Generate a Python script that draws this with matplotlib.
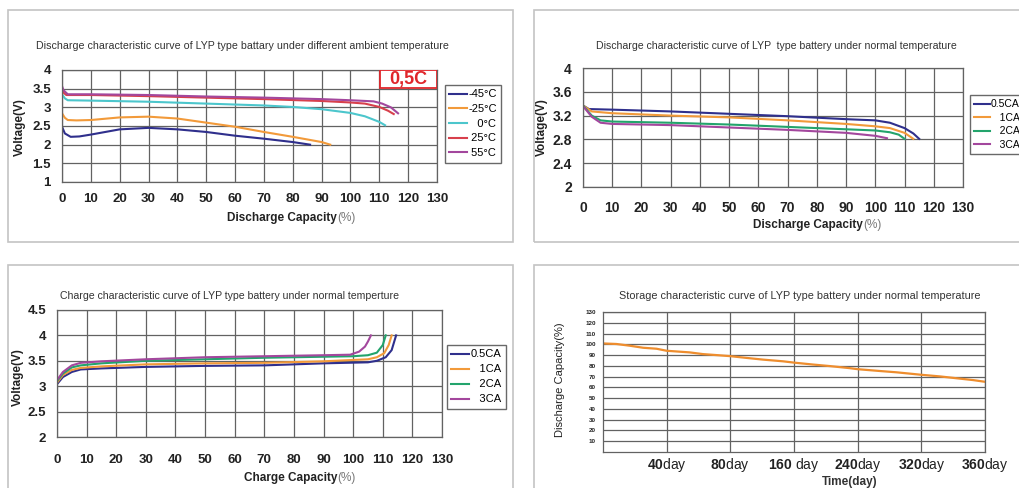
import numpy as np
import matplotlib.pyplot as plt
from matplotlib.patches import Rectangle

plt.rcParams['font.family'] = ['Liberation Sans', 'DejaVu Sans']
plt.rcParams['mathtext.fontset'] = 'custom'
plt.rcParams['mathtext.bf'] = 'Liberation Sans:bold'
plt.rcParams['mathtext.rm'] = 'Liberation Sans'

# --- panel 1: discharge at different ambient temperature (0.5C) ---
temp_labels = ['-45°C', '-25°C', '   0°C', ' 25°C', ' 55°C']
cap_m45 = [0, 1, 3, 6, 10, 20, 30, 40, 50, 60, 70, 80, 86]
v_m45 = [2.48, 2.30, 2.21, 2.22, 2.27, 2.41, 2.45, 2.41, 2.34, 2.24, 2.16, 2.07, 2.0]
cap_m25 = [0, 1, 2, 5, 10, 20, 30, 40, 50, 60, 70, 80, 90, 93]
v_m25 = [2.84, 2.72, 2.66, 2.65, 2.66, 2.73, 2.75, 2.70, 2.59, 2.48, 2.34, 2.21, 2.07, 2.0]
cap_0 = [0, 1, 2, 10, 30, 50, 70, 80, 90, 100, 105, 110, 112]
v_0 = [3.35, 3.24, 3.19, 3.18, 3.15, 3.10, 3.05, 3.01, 2.95, 2.85, 2.76, 2.61, 2.52]
cap_25 = [0, 0.7, 1.5, 10, 30, 50, 70, 90, 100, 105, 110, 113, 115]
v_25 = [3.46, 3.38, 3.33, 3.33, 3.30, 3.26, 3.22, 3.17, 3.13, 3.10, 3.01, 2.91, 2.82]
cap_55 = [0, 0.5, 2, 10, 30, 50, 70, 90, 100, 108, 111, 114, 116.5]
v_55 = [3.57, 3.46, 3.35, 3.35, 3.33, 3.29, 3.26, 3.22, 3.19, 3.16, 3.10, 3.00, 2.84]

# --- panel 2: discharge at normal temperature, several rates ---
rate_labels = ['0.5CA', '   1CA', '   2CA', '   3CA']
dis_cap_05 = [0, 2, 10, 30, 50, 70, 90, 100, 105, 110, 113, 115]
dis_v_05 = [3.37, 3.31, 3.30, 3.27, 3.23, 3.19, 3.14, 3.12, 3.08, 2.99, 2.90, 2.81]
dis_cap_1 = [0, 3, 10, 30, 50, 70, 90, 100, 105, 110, 113]
dis_v_1 = [3.37, 3.27, 3.24, 3.20, 3.17, 3.12, 3.06, 3.02, 2.99, 2.91, 2.81]
dis_cap_2 = [0, 3, 6, 10, 30, 50, 70, 90, 100, 105, 108, 110]
dis_v_2 = [3.37, 3.20, 3.12, 3.10, 3.08, 3.05, 3.01, 2.97, 2.95, 2.92, 2.88, 2.81]
dis_cap_3 = [0, 3, 6, 10, 30, 50, 70, 90, 100, 104]
dis_v_3 = [3.36, 3.18, 3.08, 3.06, 3.04, 3.00, 2.96, 2.91, 2.86, 2.82]

# --- panel 3: charge at normal temperature ---
chg_cap_05 = [0, 2, 5, 8, 15, 30, 50, 70, 90, 105, 108, 111, 113, 114.5]
chg_v_05 = [3.04, 3.18, 3.28, 3.33, 3.35, 3.38, 3.40, 3.41, 3.45, 3.47, 3.50, 3.57, 3.71, 4.0]
chg_cap_1 = [0, 2, 5, 8, 15, 30, 50, 70, 90, 105, 108, 110.5, 112, 113]
chg_v_1 = [3.07, 3.22, 3.32, 3.36, 3.39, 3.43, 3.45, 3.46, 3.49, 3.53, 3.57, 3.65, 3.81, 4.0]
chg_cap_2 = [0, 2, 5, 8, 15, 30, 50, 70, 90, 100, 105, 108, 110, 111]
chg_v_2 = [3.10, 3.25, 3.37, 3.41, 3.45, 3.50, 3.53, 3.56, 3.58, 3.59, 3.61, 3.66, 3.81, 4.0]
chg_cap_3 = [0, 2, 5, 8, 15, 30, 50, 70, 90, 99, 102, 104, 105, 106]
chg_v_3 = [3.12, 3.28, 3.41, 3.46, 3.49, 3.53, 3.57, 3.59, 3.61, 3.62, 3.68, 3.78, 3.88, 4.0]

# --- panel 4: storage ---
day_labels = ['40', '80', '160 ', '240', '320', '360']
store_pos = [0, 0.21, 0.42, 0.63, 0.84, 1.0, 1.36, 1.57, 1.78, 2.0, 2.25, 2.51, 2.83,
             3.0, 3.3, 3.56, 3.87, 4.0, 4.35, 4.61, 5.0, 5.29, 5.55, 5.81, 6.0]
store_cap = [100.8, 100.3, 98.7, 96.8, 95.9, 94.0, 92.5, 90.9, 90.0, 89.0, 87.4, 85.8,
             84.2, 83.0, 81.2, 79.8, 77.9, 76.9, 75.2, 74.0, 71.7, 70.2, 68.5, 66.8, 65.2]

NAVY = '#2f2f8c'
ORANGE = '#f29a3a'
CYAN = '#4cc6cc'
RED = '#d8404c'
PURPLE = '#a3479d'
GREEN = '#23a46c'
GRID = '#626262'

W, H = 1019, 488


def fx(x):
    return x / W


def fy(y):
    return 1 - y / H


def box(l, t, r, b):
    return [l / W, 1 - b / H, (r - l) / W, (b - t) / H]


fig = plt.figure(figsize=(10.19, 4.88), dpi=100)

# panel frames
for l, t, r, b in [(8, 10, 513, 242), (534, 10, 1040, 242),
                   (8, 265, 513, 500), (534, 265, 1040, 500)]:
    fig.patches.append(Rectangle((fx(l), fy(b)), (r - l) / W, (b - t) / H,
                                 transform=fig.transFigure, fill=False,
                                 ec='#c4c4c4', lw=1.2))


def setup(ax, xlim, ylim, xticks, yticks, pad_x, pad_y, size=9.5):
    ax.set_xlim(xlim)
    ax.set_ylim(ylim)
    ax.set_xticks(xticks)
    ax.set_yticks(yticks)
    ax.set_xticklabels(['%g' % v for v in xticks], fontweight='bold', fontsize=size)
    ax.set_yticklabels(['%g' % v for v in yticks], fontweight='bold', fontsize=size)
    ax.tick_params(axis='x', length=0, pad=pad_x, colors='#222222')
    ax.tick_params(axis='y', length=0, pad=pad_y, colors='#222222')
    ax.grid(True, color=GRID, lw=0.9)
    for s in ax.spines.values():
        s.set_color(GRID)
        s.set_linewidth(0.9)


def legend(ax, x, y, size=8, spacing=0.35, hlen=1.6):
    leg = ax.legend(loc='upper left', bbox_to_anchor=(fx(x), fy(y)),
                    bbox_transform=fig.transFigure, borderaxespad=0,
                    fontsize=size, frameon=True, fancybox=False,
                    edgecolor='#444444', handlelength=hlen, handletextpad=0.1,
                    labelspacing=spacing, borderpad=0.4)
    leg.get_frame().set_linewidth(1.0)
    return leg


def xlabel(cx, y, bold, rest, size=8.5):
    fig.text(fx(cx), fy(y), bold, ha='right', va='center', fontweight='bold',
             fontsize=size, color='#222222')
    fig.text(fx(cx), fy(y), rest, ha='left', va='center', fontsize=size,
             color='#777777')


def ylabel(x, y, text, size=8.5, weight='bold'):
    fig.text(fx(x), fy(y), text, ha='center', va='center', rotation=90,
             fontsize=size, fontweight=weight, color='#222222')


cap_ticks = list(range(0, 131, 10))

# ---------- panel 1 ----------
ax1 = fig.add_axes(box(62, 70, 437, 182))
setup(ax1, (0, 130), (1, 4), cap_ticks, [1, 1.5, 2, 2.5, 3, 3.5, 4], 8, 8)
ax1.plot(cap_m45, v_m45, color=NAVY, lw=1.5, label=temp_labels[0])
ax1.plot(cap_m25, v_m25, color=ORANGE, lw=1.5, label=temp_labels[1])
ax1.plot(cap_0, v_0, color=CYAN, lw=1.5, label=temp_labels[2])
ax1.plot(cap_25, v_25, color=RED, lw=1.5, label=temp_labels[3])
ax1.plot(cap_55, v_55, color=PURPLE, lw=1.5, label=temp_labels[4])
legend(ax1, 445, 85, spacing=0.42)
ax1.add_patch(Rectangle((0.848, 0.835), 0.152, 0.165, transform=ax1.transAxes,
                        fc='white', ec='#e0262b', lw=1.3, zorder=5))
ax1.text(0.924, 0.918, '0,5C', transform=ax1.transAxes, ha='center', va='center',
         color='#e0262b', fontweight='bold', fontsize=13, zorder=6)
fig.text(fx(242), fy(46), 'Discharge characteristic curve of LYP type battary under '
         'different ambient temperature', ha='center', va='center', fontsize=7.7,
         color='#333333')
ylabel(20, 127, 'Voltage(V)')
xlabel(337, 218, 'Discharge Capacity', '(%)')

# ---------- panel 2 ----------
ax2 = fig.add_axes(box(583, 68, 963, 187))
setup(ax2, (0, 130), (2, 4), cap_ticks, [2, 2.4, 2.8, 3.2, 3.6, 4], 10, 8, size=10)
ax2.plot(dis_cap_05, dis_v_05, color=NAVY, lw=1.5, label=rate_labels[0])
ax2.plot(dis_cap_1, dis_v_1, color=ORANGE, lw=1.5, label=rate_labels[1])
ax2.plot(dis_cap_2, dis_v_2, color=GREEN, lw=1.5, label=rate_labels[2])
ax2.plot(dis_cap_3, dis_v_3, color=PURPLE, lw=1.5, label=rate_labels[3])
legend(ax2, 970, 95, size=7.5, hlen=1.5)
fig.text(fx(776), fy(46), 'Discharge characteristic curve of LYP  type battery under '
         'normal temperature', ha='center', va='center', fontsize=7.6,
         color='#333333')
ylabel(542, 127, 'Voltage(V)')
xlabel(863, 225, 'Discharge Capacity', '(%)')

# ---------- panel 3 ----------
ax3 = fig.add_axes(box(57, 310, 442, 437))
setup(ax3, (0, 130), (2, 4.5), cap_ticks, [2, 2.5, 3, 3.5, 4, 4.5], 12, 8)
ax3.plot(chg_cap_05, chg_v_05, color=NAVY, lw=1.5, label=rate_labels[0])
ax3.plot(chg_cap_1, chg_v_1, color=ORANGE, lw=1.5, label=rate_labels[1])
ax3.plot(chg_cap_2, chg_v_2, color=GREEN, lw=1.5, label=rate_labels[2])
ax3.plot(chg_cap_3, chg_v_3, color=PURPLE, lw=1.5, label=rate_labels[3])
legend(ax3, 447, 345, spacing=0.45)
fig.text(fx(229), fy(296), 'Charge characteristic curve of LYP type battery under '
         'normal temperture', ha='center', va='center', fontsize=7.6,
         color='#333333')
ylabel(18, 377, 'Voltage(V)')
xlabel(337, 478, 'Charge Capacity', '(%)')

# ---------- panel 4 ----------
ax4 = fig.add_axes(box(603, 312, 985, 452))
ax4.plot(store_pos, store_cap, color='#ee8d2e', lw=1.6)
ax4.set_xlim(0, 6)
ax4.set_ylim(0, 130)
ax4.set_xticks(range(1, 7))
tick_txt = []
for d in day_labels:
    gap = ' ' if d.endswith(' ') else ''
    tick_txt.append(r'$\mathbf{%s}$%sday' % (d.strip(), gap))
ax4.set_xticklabels(tick_txt, fontsize=10)
ax4.set_yticks(range(10, 131, 10))
ax4.set_yticklabels([str(v) for v in range(10, 131, 10)], fontsize=4.5,
                    fontweight='bold')
ax4.tick_params(axis='x', length=0, pad=3, colors='#222222')
ax4.tick_params(axis='y', length=0, pad=5, colors='#222222')
ax4.grid(True, color=GRID, lw=0.9)
for s in ax4.spines.values():
    s.set_color(GRID)
    s.set_linewidth(0.9)
fig.text(fx(800), fy(296), 'Storage characteristic curve of LYP type battery under '
         'normal temperature', ha='center', va='center', fontsize=7.8, color='#333333')
ylabel(560, 380, 'Discharge Capacity(%)', size=8, weight='normal')
fig.text(fx(850), fy(482), 'Time(day)', ha='center', va='center', fontsize=8.5,
         fontweight='bold', color='#333333')

fig.savefig('out.png', dpi=100)
